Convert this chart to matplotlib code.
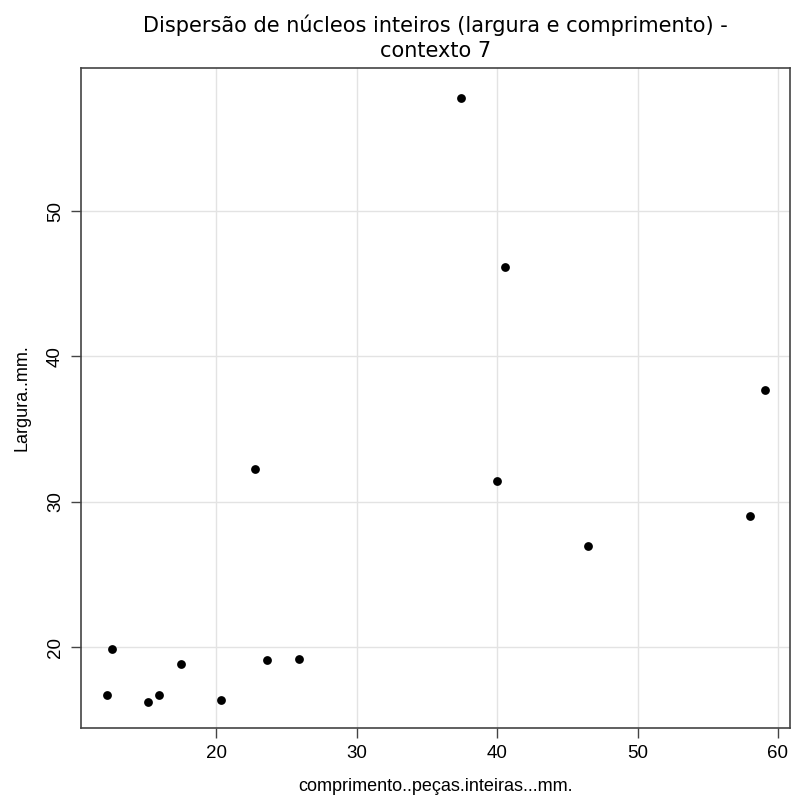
import matplotlib
matplotlib.use("Agg")
import matplotlib.pyplot as plt

# comprimento e largura dos núcleos inteiros (mm), contexto 7
comprimento = [12.19, 12.55, 15.16, 15.92, 17.49, 20.36, 22.76, 23.59, 25.89,
               37.43, 40.00, 40.57, 46.48, 58.00, 59.07]
largura = [16.70, 19.86, 16.21, 16.72, 18.83, 16.35, 32.25, 19.13, 19.17,
           57.80, 31.42, 46.15, 26.95, 29.02, 37.69]

x_ticks = [20, 30, 40, 50, 60]
y_ticks = [20, 30, 40, 50]

fig = plt.figure(figsize=(7.94, 7.98), dpi=100)
ax = fig.add_axes([0.1016, 0.0877, 0.8934, 0.8271])

ax.scatter(comprimento, largura, s=40, color="black", zorder=3, linewidths=0)

ax.set_xlim(10.34, 60.86)
ax.set_ylim(14.43, 59.85)
ax.set_xticks(x_ticks)
ax.set_yticks(y_ticks)
ax.grid(True, color="#e3e3e3", linewidth=1)
ax.set_axisbelow(True)

for side in ["left", "bottom", "top", "right"]:
    ax.spines[side].set_color("#444444")
    ax.spines[side].set_linewidth(1.2)

lab_font = {"family": "Liberation Sans", "size": 13}
ax.tick_params(axis="both", length=7, width=1, color="#444444", direction="out",
               labelsize=13.5, pad=5)
for lbl in ax.get_xticklabels() + ax.get_yticklabels():
    lbl.set_family("Liberation Sans")
for lbl in ax.get_yticklabels():
    lbl.set_rotation(90)
    lbl.set_va("center")

ax.set_xlabel("comprimento..peças.inteiras...mm.", fontdict=lab_font, labelpad=12)
ax.set_ylabel("Largura..mm.", fontdict=lab_font, labelpad=12)
ax.set_title("Dispersão de núcleos inteiros (largura e comprimento) -\ncontexto 7",
             fontsize=15, family="DejaVu Sans", pad=8, linespacing=1.3)

fig.savefig("out.png", dpi=100)
